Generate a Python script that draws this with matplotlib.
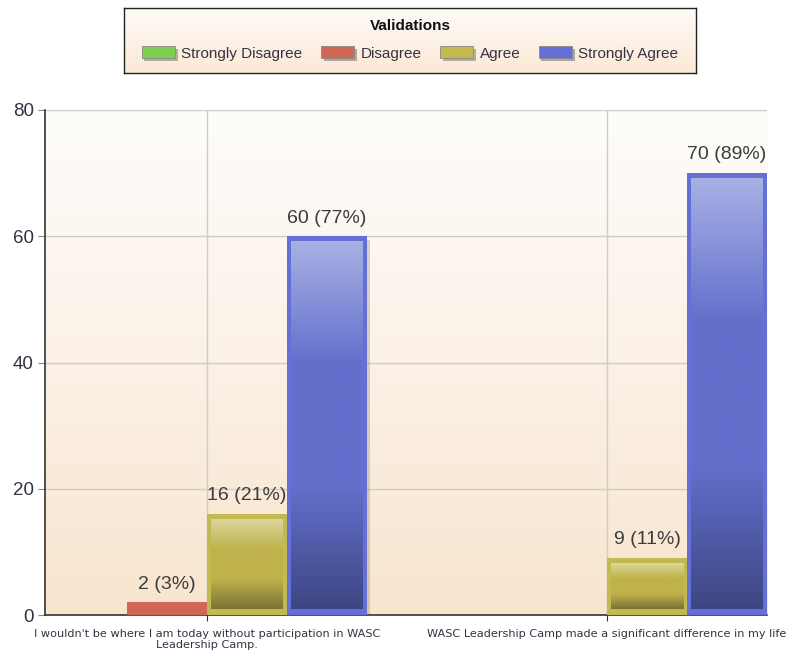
import numpy as np
import matplotlib
matplotlib.use("Agg")
import matplotlib.pyplot as plt
from matplotlib import patheffects as pe
from matplotlib.patches import Patch
from matplotlib.colors import LinearSegmentedColormap

plt.rcParams['font.family'] = ['Liberation Sans', 'DejaVu Sans']

categories = ["I wouldn't be where I am today without participation in WASC\nLeadership Camp.",
              "WASC Leadership Camp made a significant difference in my life"]
series = ["Strongly Disagree", "Disagree", "Agree", "Strongly Agree"]
strongly_disagree = [0, 0]
disagree = [2, 0]
agree = [16, 9]
strongly_agree = [60, 70]
pct_strongly_disagree = [0, 0]
pct_disagree = [3, 0]
pct_agree = [21, 11]
pct_strongly_agree = [77, 89]
yticks = [0, 20, 40, 60, 80]

values = [strongly_disagree, disagree, agree, strongly_agree]
pcts = [pct_strongly_disagree, pct_disagree, pct_agree, pct_strongly_agree]
base_colors = ["#7ccf52", "#cf6656", "#c4b850", "#6470d6"]
light_colors = ["#b4e69a", "#e5a096", "#dcd79a", "#a8b0e4"]
mid_colors = ["#74c24a", "#c85a4a", "#bfb24c", "#6270cc"]
dark_colors = ["#4a7a30", "#7e3a30", "#7a7236", "#3e4682"]

fig = plt.figure(figsize=(7.93, 6.56), dpi=100)
ax = fig.add_axes([45/793, 1-615/656, 722/793, 505/656])

# plot background gradient
bg = LinearSegmentedColormap.from_list("bg", ["#f8e5ce", "#fbf1e6", "#fefdfb"])
grad = np.linspace(0, 1, 256).reshape(-1, 1)
ax.imshow(grad, cmap=bg, aspect='auto', extent=[0, 1, 0, 1], origin='lower',
          transform=ax.transAxes, zorder=0)

x = np.arange(1, len(categories) + 1)
w = 0.2
offsets = (np.arange(4) - 1.5) * w
for i in range(4):
    cmap = LinearSegmentedColormap.from_list("g%d" % i, [dark_colors[i], mid_colors[i], mid_colors[i], light_colors[i]])
    bars = ax.bar(x + offsets[i], values[i], width=w, color=base_colors[i],
                  edgecolor=base_colors[i], linewidth=0, zorder=3,
                  path_effects=[pe.SimplePatchShadow(offset=(2, -3), shadow_rgbFace='#666666', alpha=0.25), pe.Normal()])
    for b, v, p in zip(bars, values[i], pcts[i]):
        if v <= 0:
            continue
        bx, by = b.get_x(), b.get_y()
        bw, bh = b.get_width(), b.get_height()
        padx = bw * 0.05
        pady = min(0.9, bh * 0.1)
        if bh > 4:
            ax.imshow(grad, cmap=cmap, aspect='auto', origin='lower',
                      extent=[bx + padx, bx + bw - padx, by + pady, by + bh - pady], zorder=4)
        ax.annotate(f"{v} ({p}%)", (bx + bw/2, bh), xytext=(0, 7), textcoords='offset points',
                    ha='center', va='bottom', fontsize=14, color='#3c3c3c', zorder=5)

ax.set_xlim(0.595, 2.4)
ax.set_ylim(0, 80)
ax.set_yticks(yticks)
ax.set_yticklabels([str(t) for t in yticks], fontsize=13.5, color='#333344')
ax.set_xticks(x)
ax.set_xticklabels(categories, fontsize=8.1, color='#333344', linespacing=1.2,
                   family=['DejaVu Sans'])
ax.tick_params(axis='y', length=5, color='#888888', pad=3)
ax.tick_params(axis='x', length=8, color='#333333', pad=6, direction='inout')
ax.grid(True, color='#cccccc', linewidth=1, zorder=1)
ax.set_axisbelow(True)
for s in ['top', 'right']:
    ax.spines[s].set_visible(False)
for s in ['left', 'bottom']:
    ax.spines[s].set_color('#333333')
    ax.spines[s].set_linewidth(1.2)

# legend box
lax = fig.add_axes([124/793, 1-73/656, 572/793, 65/656])
lbg = LinearSegmentedColormap.from_list("lbg", ["#fbe9d6", "#fefbf8"])
lax.imshow(grad, cmap=lbg, aspect='auto', extent=[0, 1, 0, 1], origin='lower', zorder=0)
lax.set_xlim(0, 1); lax.set_ylim(0, 1)
lax.set_xticks([]); lax.set_yticks([])
for s in lax.spines.values():
    s.set_color('#222222'); s.set_linewidth(1)
lax.text(0.5, 0.72, "Validations", ha='center', va='center', fontsize=11, weight='bold',
         color='#111111', transform=lax.transAxes)
handles = [Patch(facecolor=base_colors[i], edgecolor='#888888', linewidth=0.6,
                 path_effects=[pe.SimplePatchShadow(offset=(2, -2), alpha=0.35), pe.Normal()])
           for i in range(4)]
leg = lax.legend(handles, series, loc='center', ncol=4, frameon=False, fontsize=11,
                 handlelength=2.2, handleheight=0.8, handletextpad=0.4, columnspacing=1.2,
                 bbox_to_anchor=(0.5, 0.3))
for t in leg.get_texts():
    t.set_color('#333344')

fig.savefig("out.png", dpi=100)
